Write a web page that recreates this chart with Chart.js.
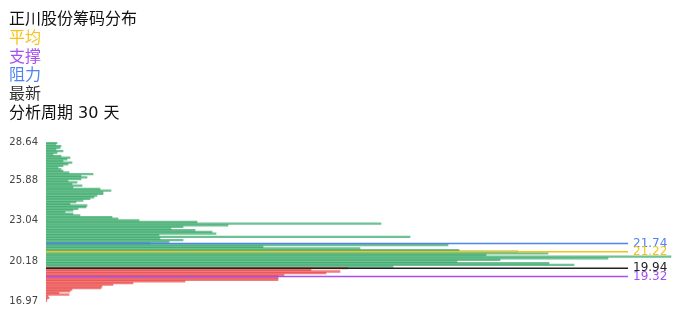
<!DOCTYPE html>
<html lang="zh">
<head>
    <meta charset="UTF-8">
    <title>正川股份筹码分布</title>
    <style>
        body { margin: 0; background: #fff; }
        .wrap { position: relative; width: 696px; height: 320px; }
        .wrap canvas { position: absolute; left: 0; top: 0; }
        .legend {
            position: absolute; left: 9px; top: 10px;
            font-family: "DejaVu Sans", "Noto Sans CJK SC", sans-serif;
            font-size: 16px; line-height: 18.8px; color: #111;
        }
    </style>
</head>
<body>
    <div class="wrap">
        <canvas id="chip-chart" width="696" height="320"></canvas>
        <div class="legend">
            <div>正川股份筹码分布</div>
            <div style="color:#f5c21b">平均</div>
            <div style="color:#a64ff0">支撑</div>
            <div style="color:#4d84f0">阻力</div>
            <div style="color:#333">最新</div>
            <div>分析周期 30 天</div>
        </div>
    </div>

    <script src="https://cdn.jsdelivr.net/npm/chart.js"></script>
    <script>
        // price bins, top to bottom
        const prices = [
            '28.64', '28.52', '28.40', '28.28', '28.16', '28.04', '27.92', '27.80', '27.68', '27.56',
            '27.44', '27.32', '27.20', '27.08', '26.96', '26.84', '26.72', '26.60', '26.48', '26.36',
            '26.24', '26.12', '26.00', '25.88', '25.76', '25.64', '25.53', '25.41', '25.29', '25.17',
            '25.05', '24.94', '24.82', '24.70', '24.58', '24.46', '24.34', '24.23', '24.11', '23.99',
            '23.87', '23.75', '23.63', '23.52', '23.40', '23.28', '23.16', '23.04', '22.95', '22.85',
            '22.76', '22.67', '22.58', '22.48', '22.39', '22.30', '22.20', '22.11', '22.02', '21.93',
            '21.83', '21.74', '21.64', '21.53', '21.43', '21.32', '21.22', '21.05', '20.87', '20.70',
            '20.53', '20.35', '20.18', '20.12', '20.06', '20.00', '19.94', '19.82', '19.69', '19.57',
            '19.44', '19.32', '19.16', '19.01', '18.85', '18.69', '18.54', '18.38', '18.22', '18.07',
            '17.91', '17.75', '17.60', '17.44', '17.28', '17.13', '16.97'
        ];
        // chip volume per bin
        const volumes = [
            11, 10, 15, 14, 10, 17, 11, 7, 15, 24,
            21, 17, 26, 22, 17, 12, 15, 17, 23, 47,
            35, 41, 35, 22, 31, 26, 36, 27, 54, 65,
            57, 57, 51, 48, 44, 37, 30, 24, 41, 40,
            32, 27, 19, 27, 34, 66, 72, 93, 151, 335,
            182, 137, 125, 149, 166, 170, 113, 364, 114, 137,
            123, 104, 402, 217, 314, 413, 472, 502, 440, 625,
            562, 454, 411, 503, 528, 347, 302, 265, 294, 280,
            238, 232, 232, 232, 139, 87, 67, 56, 55, 26,
            24, 13, 23, 2, 3, 1, 0.5
        ];
        const tickLabels = ['28.64', '25.88', '23.04', '20.18', '16.97'];

        const avgPrice = '21.22';
        const supportPrice = '19.32';
        const resistPrice = '21.74';
        const latestPrice = '19.94';

        const markers = [
            { price: resistPrice, color: '#4d84f0' },
            { price: avgPrice, color: '#f5c21b' },
            { price: latestPrice, color: '#222222' },
            { price: supportPrice, color: '#a64ff0' }
        ];

        const barColors = prices.map(p =>
            parseFloat(p) <= parseFloat(latestPrice) ? 'rgba(232, 52, 52, 0.65)' : 'rgba(28, 158, 84, 0.64)'
        );

        const markerLines = {
            id: 'markerLines',
            afterDatasetsDraw(chart) {
                const ctx = chart.ctx;
                const y = chart.scales.y;
                const left = chart.chartArea.left;
                const right = chart.chartArea.right - 44;
                ctx.save();
                ctx.font = '12px "DejaVu Sans", sans-serif';
                ctx.textBaseline = 'middle';
                markers.forEach(m => {
                    const py = y.getPixelForValue(prices.indexOf(m.price));
                    ctx.strokeStyle = m.color;
                    ctx.lineWidth = 1.5;
                    ctx.beginPath();
                    ctx.moveTo(left, py);
                    ctx.lineTo(right, py);
                    ctx.stroke();
                    ctx.fillStyle = m.color;
                    ctx.fillText(m.price, right + 5, py);
                });
                ctx.restore();
            }
        };

        new Chart(document.getElementById('chip-chart'), {
            type: 'bar',
            data: {
                labels: prices,
                datasets: [{
                    data: volumes,
                    backgroundColor: barColors,
                    borderWidth: 0,
                    barPercentage: 1,
                    categoryPercentage: 1
                }]
            },
            options: {
                indexAxis: 'y',
                responsive: false,
                animation: false,
                devicePixelRatio: 1,
                layout: { padding: { top: 142, bottom: 18, left: 0, right: 24 } },
                plugins: {
                    legend: { display: false },
                    tooltip: { enabled: false }
                },
                scales: {
                    x: { type: 'linear', min: 0, max: 626, display: false },
                    y: {
                        type: 'category',
                        grid: { display: false },
                        border: { display: false },
                        afterFit(scale) { scale.width = 46; },
                        ticks: {
                            autoSkip: false,
                            padding: 0,
                            color: '#444',
                            font: { size: 10, family: '"DejaVu Sans", sans-serif' },
                            callback(value, i) {
                                return tickLabels.includes(prices[i]) ? prices[i] : null;
                            }
                        }
                    }
                }
            },
            plugins: [markerLines]
        });
    </script>
</body>
</html>
